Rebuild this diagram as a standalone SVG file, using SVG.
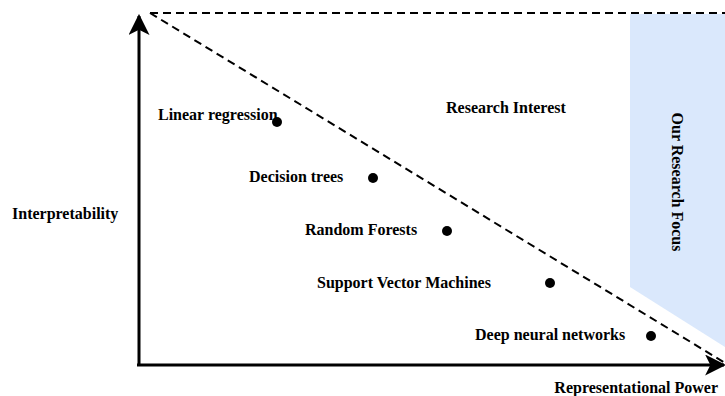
<svg xmlns="http://www.w3.org/2000/svg" width="725" height="396" viewBox="0 0 725 396">
  <style>
    .lbl { font-family: "Liberation Serif", "Times New Roman", serif; font-weight: bold; font-size: 16px; fill: #000; }
    .dash { fill: none; stroke: #000; stroke-width: 2; stroke-dasharray: 8 5; }
    .axis { fill: none; stroke: #000; stroke-width: 3; }
    .dot { fill: #000; }
  </style>
  <defs>
    <marker id="arrow" viewBox="0 0 10 10" refX="9" refY="5" markerWidth="7" markerHeight="7" orient="auto" markerUnits="strokeWidth">
      <path d="M0,0 L10,5 L0,10 L2.5,5 Z" fill="#000"/>
    </marker>
  </defs>

  <!-- focus band -->
  <g id="focus">
    <polygon points="630,14 725,14 725,347 630,287" fill="#dae8fc"/>
    <text class="lbl" transform="translate(672,182) rotate(90)" text-anchor="middle">Our Research Focus</text>
  </g>

  <!-- frontier lines and axes -->
  <g id="connectors">
    <path class="dash" d="M150,13 L725,13"/>
    <path class="dash" d="M150,13 L740,372"/>
    <path class="axis" d="M139,366 L139,16" marker-end="url(#arrow)"/>
    <path class="axis" d="M137,365 L724,365" marker-end="url(#arrow)"/>
  </g>

  <g id="axis-y"><text class="lbl" x="12" y="219">Interpretability</text></g>
  <g id="axis-x"><text class="lbl" x="718" y="393" text-anchor="end">Representational Power</text></g>
  <g id="research-interest"><text class="lbl" x="446" y="113">Research Interest</text></g>

  <g id="linear-regression">
    <text class="lbl" x="158" y="120">Linear regression</text>
    <circle class="dot" cx="277" cy="122" r="5"/>
  </g>
  <g id="decision-trees">
    <text class="lbl" x="249" y="182">Decision trees</text>
    <circle class="dot" cx="373" cy="178" r="5"/>
  </g>
  <g id="random-forests">
    <text class="lbl" x="305" y="235">Random Forests</text>
    <circle class="dot" cx="447" cy="231" r="5"/>
  </g>
  <g id="svm">
    <text class="lbl" x="317" y="288">Support Vector Machines</text>
    <circle class="dot" cx="550" cy="283" r="5"/>
  </g>
  <g id="dnn">
    <text class="lbl" x="475" y="340">Deep neural networks</text>
    <circle class="dot" cx="651" cy="336" r="5"/>
  </g>
</svg>
